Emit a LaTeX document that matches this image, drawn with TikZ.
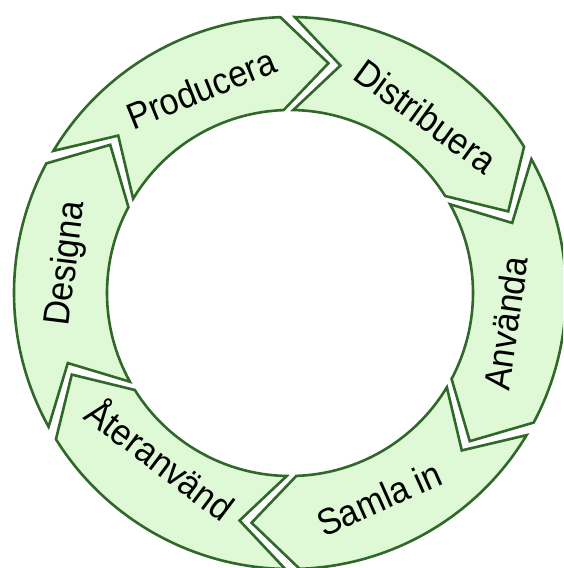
\documentclass[tikz,border=0pt]{standalone}
\usepackage{fontspec}
\setmainfont{Liberation Sans}
\definecolor{segfill}{RGB}{223,248,214}
\definecolor{segline}{RGB}{48,104,42}
\begin{document}
\begin{tikzpicture}[x=1pt,y=1pt,
  seg/.style={draw=segline, fill=segfill, line width=2.6pt, line join=miter},
  lbl/.style={font=\fontsize{37}{42}\selectfont, inner sep=0pt}]
\useasboundingbox (0,0) rectangle (563,-568);
\clip (0,0) rectangle (563,-568);
\coordinate (c) at (290,-293);
\foreach \b in {150.5, 90.5, 30.5, -29.5, -89.5, -149.5} {
  \pgfmathsetmacro\e{\b-60}
  \draw[seg] ([shift={(\b-1.5:276)}]c) arc[start angle=\b-1.5, end angle=\e+1.5, radius=276]
    -- ([shift={(\e-10:233)}]c) -- ([shift={(\e+1.5:183)}]c)
    arc[start angle=\e+1.5, end angle=\b-1.5, radius=183]
    -- ([shift={(\b-13:233)}]c) -- cycle;
}
\node[lbl, rotate=22, xscale=0.92]  (producera)   at ([shift={(113.5:223)}]c) {Producera};
\node[lbl, rotate=-36, xscale=0.92] (distribuera) at ([shift={(52.5:223)}]c) {Distribuera};
\node[lbl, rotate=82, xscale=0.92]  (anvanda)     at ([shift={(-8:218)}]c) {Använda};
\node[lbl, rotate=24, xscale=0.92]  (samla)       at ([shift={(-66.5:224)}]c) {Samla in};
\node[lbl, rotate=-37, xscale=0.92] (ateranvand)  at ([shift={(-128:209)}]c) {Återanvänd};
\node[lbl, rotate=83, xscale=0.92]  (designa)     at ([shift={(172.5:225)}]c) {Designa};
\end{tikzpicture}
\end{document}
